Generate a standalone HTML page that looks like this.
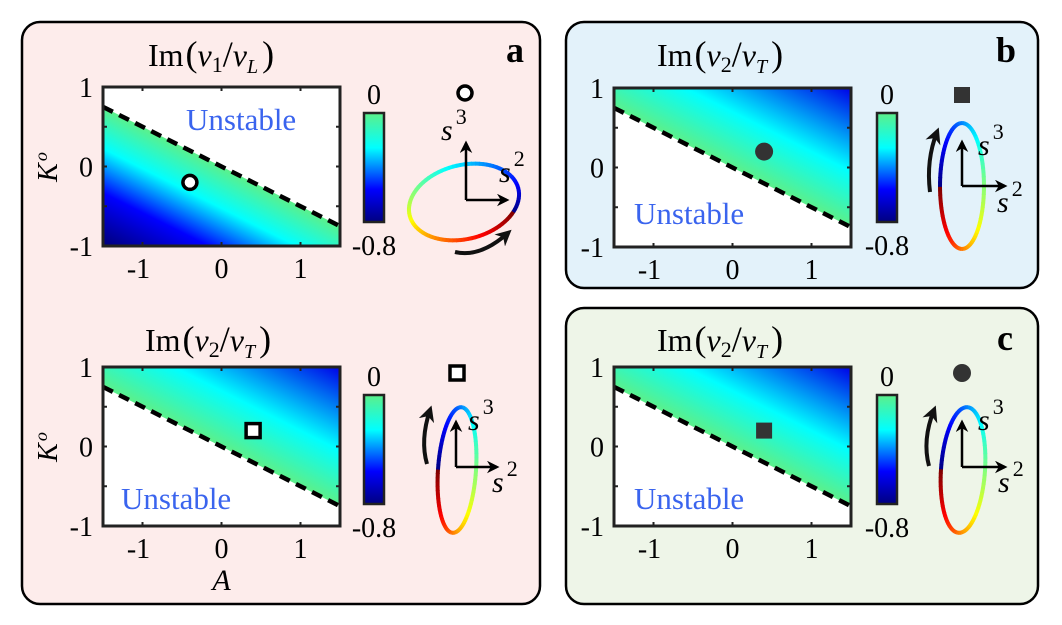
<!DOCTYPE html>
<html><head><meta charset="utf-8"><style>
html,body{margin:0;padding:0;background:#fff;}
svg, svg text{font-family:"Liberation Serif","DejaVu Serif",serif;}
</style></head><body>
<svg id="fig" width="1062" height="620" viewBox="0 0 1062 620" font-family="Liberation Serif, serif">
<defs>
<linearGradient id="cbg" x1="0" y1="0" x2="0" y2="1">
<stop offset="0" stop-color="#5cf08a"/><stop offset="0.32" stop-color="#00ffff"/><stop offset="0.7" stop-color="#0000ff"/><stop offset="1" stop-color="#000080"/>
</linearGradient>
<marker id="ah" viewBox="0 0 10 10" refX="8" refY="5" markerWidth="5" markerHeight="5" orient="auto"><path d="M0,0 L10,5 L0,10 L3,5 z" fill="#000"/></marker>
<marker id="ah2" viewBox="0 0 10 10" refX="7" refY="5" markerWidth="4" markerHeight="4" orient="auto"><path d="M0,0 L10,5 L0,10 L3,5 z" fill="#111"/></marker>
</defs>
<rect x="22" y="22" width="518" height="582" rx="18" fill="#fdeceb" stroke="#000" stroke-width="2.5"/>
<rect x="566" y="22" width="472" height="266" rx="18" fill="#e3f2fa" stroke="#000" stroke-width="2.5"/>
<rect x="566" y="308" width="472" height="296" rx="18" fill="#eef5e8" stroke="#000" stroke-width="2.5"/>
<text x="506" y="62" font-size="36" font-weight="bold" font-family="Liberation Serif, serif">a</text>
<text x="996" y="62" font-size="36" font-weight="bold" font-family="Liberation Serif, serif">b</text>
<text x="997" y="350" font-size="36" font-weight="bold" font-family="Liberation Serif, serif">c</text>
<g id="layer" font-family="Liberation Serif, serif"></g>
</svg>
<script>
// data
const xTicks = [-1, 0, 1];
const yTicks = [-1, 0, 1];
const cbTickLabels = ["0", "-0.8"];
const boundarySlope = -0.5;
const boundaryIntercept = 0;
const markerA = [-0.4, 0.4, 0.4, 0.4];
const markerK = [-0.2, 0.2, 0.2, 0.2];
const titleSub1 = ["1", "2", "2", "2"];
const titleSub2 = ["L", "T", "T", "T"];

const NS = "http://www.w3.org/2000/svg";
const layer = document.getElementById("layer");
const FF = '"Liberation Serif", serif';
function mk(tag, attrs, parent) {
  const e = document.createElementNS(NS, tag);
  for (const k in attrs) e.setAttribute(k, attrs[k]);
  if (tag === "text") e.setAttribute("font-family", FF);
  (parent || layer).appendChild(e);
  return e;
}
function jet(t) {
  const c = v => Math.round(255 * Math.max(0, Math.min(1, v)));
  return `rgb(${c(1.5 - Math.abs(4 * t - 3))},${c(1.5 - Math.abs(4 * t - 2))},${c(1.5 - Math.abs(4 * t - 1))})`;
}
const W = 237, H = 159;
const plots = [
  {x0: 103, y0: 87, below: true, marker: "ocircle", ux: 186, uy: 130, tx: 148, ty: 66,
   stops: [[0, "#5cf08a"], [0.3, "#00ffff"], [0.62, "#0000ff"], [1, "#000078"]],
   cb: [364, 113], top: [465, 93, "ocircle"],
   ell: {cx: 464, cy: 202, rx: 56, ry: 37, rot: -14, start: 35, dir: 1},
   ax: [466, 200, 143, 507], s3: [441, 140], s2: [499, 182], curve: "M455,252 Q480,258 508,233"},
  {x0: 614, y0: 88, below: false, marker: "fcircle", ux: 634, uy: 224, tx: 657, ty: 66,
   stops: [[0, "#5cf08a"], [0.4, "#00ffff"], [1, "#0000e8"]],
   cb: [877, 113], top: [962, 95, "fsquare"],
   ell: {cx: 962, cy: 186, rx: 22, ry: 63, rot: 0, start: 180, dir: -1},
   ax: [962, 186, 142, 1005], s3: [978, 155], s2: [997, 212], curve: "M930,192 Q926,160 937,132"},
  {x0: 103, y0: 367, below: false, marker: "osquare", ux: 121, uy: 509, tx: 145, ty: 351,
   stops: [[0, "#5cf08a"], [0.4, "#00ffff"], [1, "#0000e8"]],
   cb: [364, 395], top: [457, 373, "osquare"],
   ell: {cx: 457, cy: 470, rx: 19, ry: 63, rot: 4, start: 180, dir: -1},
   ax: [456, 467, 422, 497], s3: [468, 430], s2: [492, 492], curve: "M427,464 Q420,440 430,410"},
  {x0: 614, y0: 367, below: false, marker: "fsquare", ux: 634, uy: 509, tx: 657, ty: 351,
   stops: [[0, "#5cf08a"], [0.4, "#00ffff"], [1, "#0000e8"]],
   cb: [877, 395], top: [962, 373, "fcircle"],
   ell: {cx: 963, cy: 470, rx: 22, ry: 63, rot: 4, start: 180, dir: -1},
   ax: [962, 467, 422, 1005], s3: [978, 430], s2: [998, 492], curve: "M929,466 Q922,440 934,410"}
];

function drawMarker(type, x, y, name) {
  let e;
  if (type === "ocircle") e = mk("circle", {cx: x, cy: y, r: 7, fill: "#fff", stroke: "#000", "stroke-width": 3.5});
  else if (type === "fcircle") e = mk("circle", {cx: x, cy: y, r: 9, fill: "#333"});
  else if (type === "osquare") e = mk("rect", {x: x - 7, y: y - 7, width: 14, height: 14, fill: "#fff", stroke: "#000", "stroke-width": 3.5});
  else e = mk("rect", {x: x - 8, y: y - 8, width: 16, height: 16, fill: "#333"});
  
  
}

plots.forEach((p, i) => {
  const sx = A => p.x0 + (A + 1.5) / 3 * W;
  const sy = K => p.y0 + (1 - K) / 2 * H;
  const bK = A => boundarySlope * A + boundaryIntercept;
  const t = mk("text", {x: p.tx, y: p.ty, "font-size": 32});
  
  
  t.innerHTML = `Im<tspan font-size="36" dy="0" dx="2">(</tspan><tspan font-style="italic">v</tspan><tspan font-size="22" dy="6">${titleSub1[i]}</tspan><tspan font-size="36" dy="-6">/</tspan><tspan font-style="italic">v</tspan><tspan font-size="20" font-style="italic" dy="7">${titleSub2[i]}</tspan><tspan font-size="36" dy="-7" dx="4">)</tspan>`;
  const g = mk("linearGradient", {id: "rg" + i, gradientUnits: "userSpaceOnUse"}, document.querySelector("defs"));
  const nx = p.below ? -0.449 : 0.449, ny = p.below ? 0.893 : -0.893;
  const ox = sx(0), oy = sy(bK(0));
  g.setAttribute("x1", ox); g.setAttribute("y1", oy);
  g.setAttribute("x2", ox + nx * 124); g.setAttribute("y2", oy + ny * 124);
  p.stops.forEach(s => mk("stop", {offset: s[0], "stop-color": s[1]}, g));
  mk("rect", {x: p.x0, y: p.y0, width: W, height: H, fill: "#fff"});
  const pts = p.below
    ? [[-1.5, bK(-1.5)], [1.5, bK(1.5)], [1.5, -1], [-1.5, -1]]
    : [[-1.5, 1], [1.5, 1], [1.5, bK(1.5)], [-1.5, bK(-1.5)]];
  const reg = mk("polygon", {points: pts.map(q => sx(q[0]) + "," + sy(q[1])).join(" "), fill: `url(#rg${i})`});
  
  
  const bl = mk("line", {x1: sx(-1.5), y1: sy(bK(-1.5)), x2: sx(1.5), y2: sy(bK(1.5)), stroke: "#000", "stroke-width": 4.5, "stroke-dasharray": "11,7"});
  
  
  const u = mk("text", {x: p.ux, y: p.uy, "font-size": 31, fill: "#3a64ee"});
  u.textContent = "Unstable";
  
  
  const fr = mk("rect", {x: p.x0, y: p.y0, width: W, height: H, fill: "none", stroke: "#222", "stroke-width": 3});
  
  
  xTicks.forEach(v => {
    mk("line", {x1: sx(v), y1: p.y0 + H, x2: sx(v), y2: p.y0 + H - 4, stroke: "#222", "stroke-width": 2});
    mk("line", {x1: sx(v), y1: p.y0, x2: sx(v), y2: p.y0 + 4, stroke: "#222", "stroke-width": 2});
    const tl = mk("text", {x: sx(v) - (v < 0 ? 4 : 0), y: p.y0 + H + 32, "font-size": 28, "text-anchor": "middle"});
    tl.textContent = v;
    
    
  });
  [-1, -0.5, 0, 0.5, 1].forEach(v => {
    mk("line", {x1: p.x0, y1: sy(v), x2: p.x0 + 4, y2: sy(v), stroke: "#222", "stroke-width": 2});
    mk("line", {x1: p.x0 + W, y1: sy(v), x2: p.x0 + W - 4, y2: sy(v), stroke: "#222", "stroke-width": 2});
  });
  yTicks.forEach(v => {
    const tl = mk("text", {x: p.x0 - 10, y: sy(v) + 10, "font-size": 28, "text-anchor": "end"});
    tl.textContent = v;
    
    
  });
  if (i === 0 || i === 2) {
    const yl = mk("text", {x: 0, y: 0, "font-size": 28, "font-style": "italic", transform: `translate(${p.x0 - 46},${p.y0 + 80}) rotate(-90)`, "text-anchor": "middle"});
    yl.innerHTML = 'K<tspan font-size="18" dy="-10" dx="2">o</tspan>';
    
    
  }
  if (i === 2) {
    const xl = mk("text", {x: sx(0), y: p.y0 + H + 64, "font-size": 30, "font-style": "italic", "text-anchor": "middle"});
    xl.textContent = "A";
    
    
  }
  drawMarker(p.marker, sx(markerA[i]), sy(markerK[i]), "parameter-marker");
  const cb = mk("rect", {x: p.cb[0], y: p.cb[1], width: 20, height: 109, fill: "url(#cbg)", stroke: "#222", "stroke-width": 2.5});
  
  
  const c0 = mk("text", {x: p.cb[0] + 10, y: p.cb[1] - 9, "font-size": 28, "text-anchor": "middle"});
  c0.textContent = cbTickLabels[0];
  
  
  const c1 = mk("text", {x: p.cb[0] + 10, y: p.cb[1] + 142, "font-size": 28, "text-anchor": "middle"});
  c1.textContent = cbTickLabels[1];
  
  
  drawMarker(p.top[2], p.top[0], p.top[1], "state-marker");
  const eg = mk("g", {transform: `rotate(${p.ell.rot},${p.ell.cx},${p.ell.cy})`});
  
  
  const N = 90;
  for (let k = 0; k < N; k++) {
    const a1 = (p.ell.start + p.ell.dir * 360 * k / N) * Math.PI / 180;
    const a2 = (p.ell.start + p.ell.dir * 360 * (k + 1.2) / N) * Math.PI / 180;
    mk("line", {x1: p.ell.cx + p.ell.rx * Math.cos(a1), y1: p.ell.cy + p.ell.ry * Math.sin(a1),
      x2: p.ell.cx + p.ell.rx * Math.cos(a2), y2: p.ell.cy + p.ell.ry * Math.sin(a2),
      stroke: jet(1 - k / N), "stroke-width": 4}, eg);
  }
  mk("line", {x1: p.ax[0], y1: p.ax[1], x2: p.ax[0], y2: p.ax[2], stroke: "#000", "stroke-width": 2.5, "marker-end": "url(#ah)"});
  mk("line", {x1: p.ax[0], y1: p.ax[1], x2: p.ax[3], y2: p.ax[1], stroke: "#000", "stroke-width": 2.5, "marker-end": "url(#ah)"});
  const s3 = mk("text", {x: p.s3[0], y: p.s3[1], "font-size": 30, "font-style": "italic"});
  s3.innerHTML = 's<tspan font-size="22" font-style="normal" dy="-16" dx="3">3</tspan>';
  
  
  const s2 = mk("text", {x: p.s2[0], y: p.s2[1], "font-size": 30, "font-style": "italic"});
  s2.innerHTML = 's<tspan font-size="22" font-style="normal" dy="-16" dx="3">2</tspan>';
  
  
  const cv = mk("path", {d: p.curve, fill: "none", stroke: "#111", "stroke-width": 4, "marker-end": "url(#ah2)"});
  
  
});
</script>
</body></html>
